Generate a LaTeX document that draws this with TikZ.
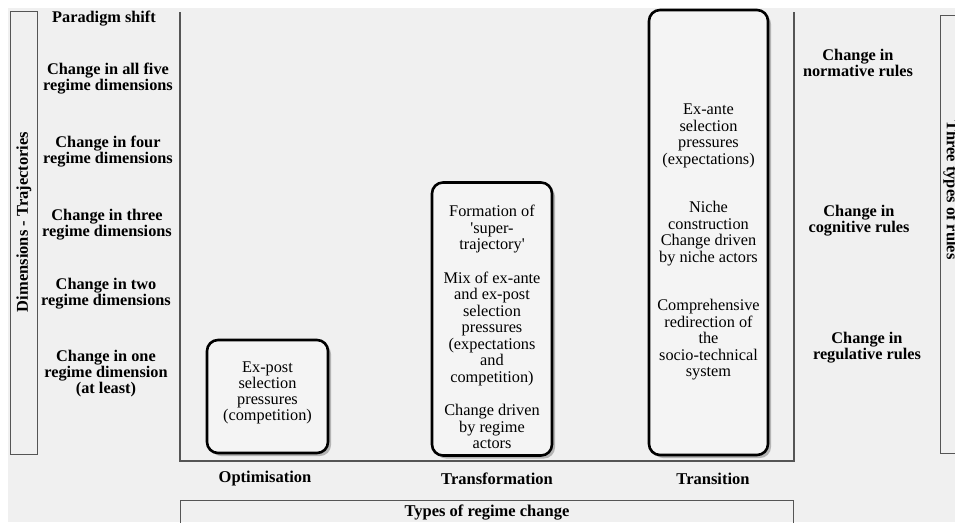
\documentclass[tikz,border=0pt]{standalone}
\usepackage{fontspec}
\setmainfont{Liberation Serif}
\usetikzlibrary{shadows}
\definecolor{bg}{HTML}{F0F0F0}
\definecolor{boxfill}{HTML}{F4F4F4}
\definecolor{rule}{HTML}{555555}
\tikzset{
  x=1pt, y=-1pt,
  lbl/.style={font=\bfseries\fontsize{16.3}{16}\selectfont, align=center, inner sep=0pt},
  big/.style={font=\bfseries\fontsize{16.5}{16.5}\selectfont},
  btxt/.style={font=\fontsize{16.3}{16.5}\selectfont, align=center, inner sep=0pt},
  rbox/.style={draw=black, line width=2.6pt, rounded corners=11pt, fill=boxfill,
    drop shadow={shadow xshift=3pt, shadow yshift=-3pt, fill=black!45, opacity=0.6}},
  frame/.style={draw=rule, line width=1pt},
  axis/.style={draw=rule, line width=1.4pt}
}
\begin{document}
\begin{tikzpicture}
\useasboundingbox (0,0) rectangle (955,522);
\fill[white] (0,0) rectangle (955,522);
\fill[bg] (8,8) rectangle (955,522);

% side frames
\node[frame, minimum width=27pt, minimum height=443pt, inner sep=0pt] (lframe) at (23.5,232.5) {};
\node[lbl, rotate=90, big] (ltitle) at (24,222) {Dimensions - Trajectories};
\node[frame, minimum width=40pt, minimum height=438pt, inner sep=0pt] (rframe) at (960,234) {};
\node[lbl, rotate=-90, big] (rtitle) at (951,190) {Three types of rules};
\node[frame, minimum width=613pt, minimum height=40pt, inner sep=0pt] (bframe) at (486.5,520) {};
\node[lbl, big] (btitle) at (487,513) {Types of regime change};

% axes
\coordinate (ltop) at (180,12);
\coordinate (lbot) at (180,461);
\coordinate (rtop) at (794,12);
\coordinate (rbot) at (794,461);
\draw[axis] (ltop) -- (lbot) -- (rbot) -- (rtop);

% left labels
\node[lbl] (p0) at (104,19) {Paradigm shift};
\node[lbl] (p5) at (108,79) {Change in all five\\regime dimensions};
\node[lbl] (p4) at (108,151.5) {Change in four\\regime dimensions};
\node[lbl] (p3) at (107,224.5) {Change in three\\regime dimensions};
\node[lbl] (p2) at (106,293.5) {Change in two\\regime dimensions};
\node[lbl] (p1) at (106,374) {Change in one\\regime dimension\\(at least)};

% right labels
\node[lbl] (r1) at (858,63) {Change in\\normative rules};
\node[lbl] (r2) at (859,221) {Change in\\cognitive rules};
\node[lbl] (r3) at (867,348) {Change in\\regulative rules};

% bottom labels
\node[lbl, big] (x1) at (265,479) {Optimisation};
\node[lbl, big] (x2) at (497,479) {Transformation};
\node[lbl, big] (x3) at (713,479) {Transition};

% boxes
\node[rbox, minimum width=121pt, minimum height=113pt, inner sep=0pt] (b1) at (267.5,396.5) {};
\node[rbox, minimum width=120pt, minimum height=273pt, inner sep=0pt] (b2) at (492,319) {};
\node[rbox, minimum width=119pt, minimum height=445pt, inner sep=0pt] (b3) at (708.5,232.5) {};

\node[btxt, font=\fontsize{16.3}{16}\selectfont] (t1) at (267.5,393) {Ex-post\\selection\\pressures\\(competition)};
\node[btxt] (t2) at (492,327) {Formation of\\\textquotesingle super-\\trajectory\textquotesingle\\[17pt]Mix of ex-ante\\and ex-post\\selection\\pressures\\(expectations\\and\\competition)\\[17pt]Change driven\\by regime\\actors};
\node[btxt] (t3) at (708.5,242) {Ex-ante\\selection\\pressures\\(expectations)\\[32pt]Niche\\construction\\Change driven\\by niche actors\\[32pt]Comprehensive\\redirection of\\the\\socio-technical\\system};
\end{tikzpicture}
\end{document}
